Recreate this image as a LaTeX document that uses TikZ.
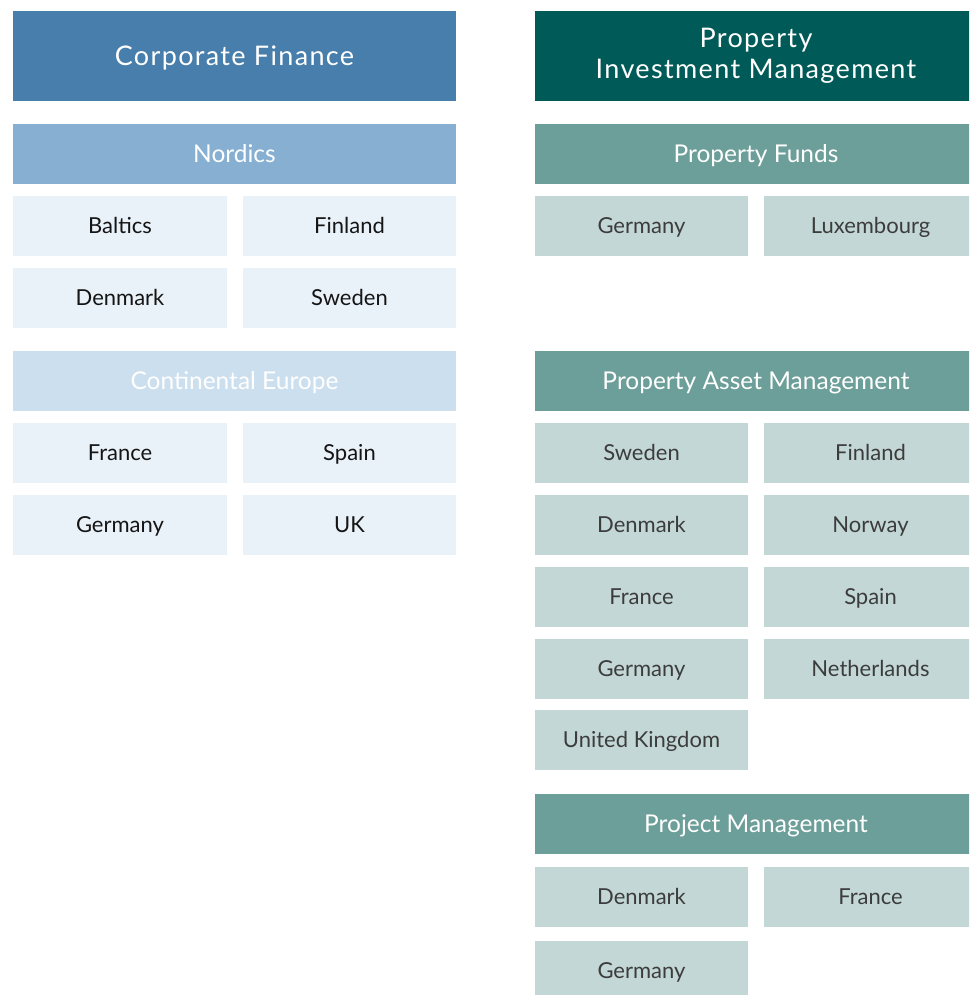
\documentclass[tikz,border=0pt]{standalone}
\usepackage{fontspec}
\setmainfont{Lato}
\newfontfamily\spacedfont[LetterSpace=5]{Lato}
\definecolor{cfblue}{HTML}{477EAB}
\definecolor{nordblue}{HTML}{86AFD2}
\definecolor{contblue}{HTML}{CCDFEE}
\definecolor{lightblue}{HTML}{EAF2F9}
\definecolor{pimteal}{HTML}{005B58}
\definecolor{midteal}{HTML}{6C9F99}
\definecolor{lightteal}{HTML}{C3D8D6}
\definecolor{darktext}{HTML}{3C3C3C}
\definecolor{blacktext}{HTML}{151515}
\begin{document}
\begin{tikzpicture}[x=1pt,y=-1pt,
  box/.style={anchor=north west,inner sep=0pt,outer sep=0pt,align=center,text depth=0pt},
  toph/.style={box,fill=#1,text=white,minimum height=90pt,text height=19.4pt,font=\spacedfont\fontsize{27}{30}\selectfont},
  subh/.style={box,fill=#1,text=white,minimum height=60pt,text height=17.6pt,font=\fontsize{24.5}{28}\selectfont},
  lcell/.style={box,fill=lightblue,text=blacktext,minimum height=60pt,text height=15.8pt,font=\fontsize{22}{26}\selectfont},
  rcell/.style={box,fill=lightteal,text=darktext,minimum height=60pt,text height=15.8pt,font=\fontsize{22}{26}\selectfont}]
\clip (0,0) rectangle (969,995);
% left column
\node[toph=cfblue,minimum width=443pt] (cf) at (13,11) {Corporate Finance};
\node[subh=nordblue,minimum width=443pt] (nord) at (13,124) {Nordics};
\node[lcell,minimum width=214pt] (balt) at (13,196) {Baltics};
\node[lcell,minimum width=213pt] (fin) at (243,196) {Finland};
\node[lcell,minimum width=214pt] (den) at (13,268) {Denmark};
\node[lcell,minimum width=213pt] (swe) at (243,268) {Sweden};
\node[subh=contblue,minimum width=443pt] (cont) at (13,351) {Continental Europe};
\node[lcell,minimum width=214pt] (fra) at (13,423) {France};
\node[lcell,minimum width=213pt] (spa) at (243,423) {Spain};
\node[lcell,minimum width=214pt] (ger) at (13,495) {Germany};
\node[lcell,minimum width=213pt] (uk) at (243,495) {UK};
% right column (extends past the right and bottom edges, clipped)
\node[toph=pimteal,text height={},text depth={},minimum width=442pt] (pim) at (535,11) {Property\\[1pt]Investment Management};
\node[subh=midteal,minimum width=442pt] (pf) at (535,124) {Property Funds};
\node[rcell,minimum width=213pt] (pfger) at (535,196) {Germany};
\node[rcell,minimum width=213pt] (pflux) at (764,196) {Luxembourg};
\node[subh=midteal,minimum width=442pt] (pam) at (535,351) {Property Asset Management};
\node[rcell,minimum width=213pt] (pamswe) at (535,423) {Sweden};
\node[rcell,minimum width=213pt] (pamfin) at (764,423) {Finland};
\node[rcell,minimum width=213pt] (pamden) at (535,495) {Denmark};
\node[rcell,minimum width=213pt] (pamnor) at (764,495) {Norway};
\node[rcell,minimum width=213pt] (pamfra) at (535,567) {France};
\node[rcell,minimum width=213pt] (pamspa) at (764,567) {Spain};
\node[rcell,minimum width=213pt] (pamger) at (535,639) {Germany};
\node[rcell,minimum width=213pt] (pamnet) at (764,639) {Netherlands};
\node[rcell,minimum width=213pt] (pamuk) at (535,710) {United Kingdom};
\node[subh=midteal,minimum width=442pt] (pm) at (535,794) {Project Management};
\node[rcell,minimum width=213pt] (pmden) at (535,867) {Denmark};
\node[rcell,minimum width=213pt] (pmfra) at (764,867) {France};
\node[rcell,minimum width=213pt] (pmger) at (535,941) {Germany};
\end{tikzpicture}
\end{document}
